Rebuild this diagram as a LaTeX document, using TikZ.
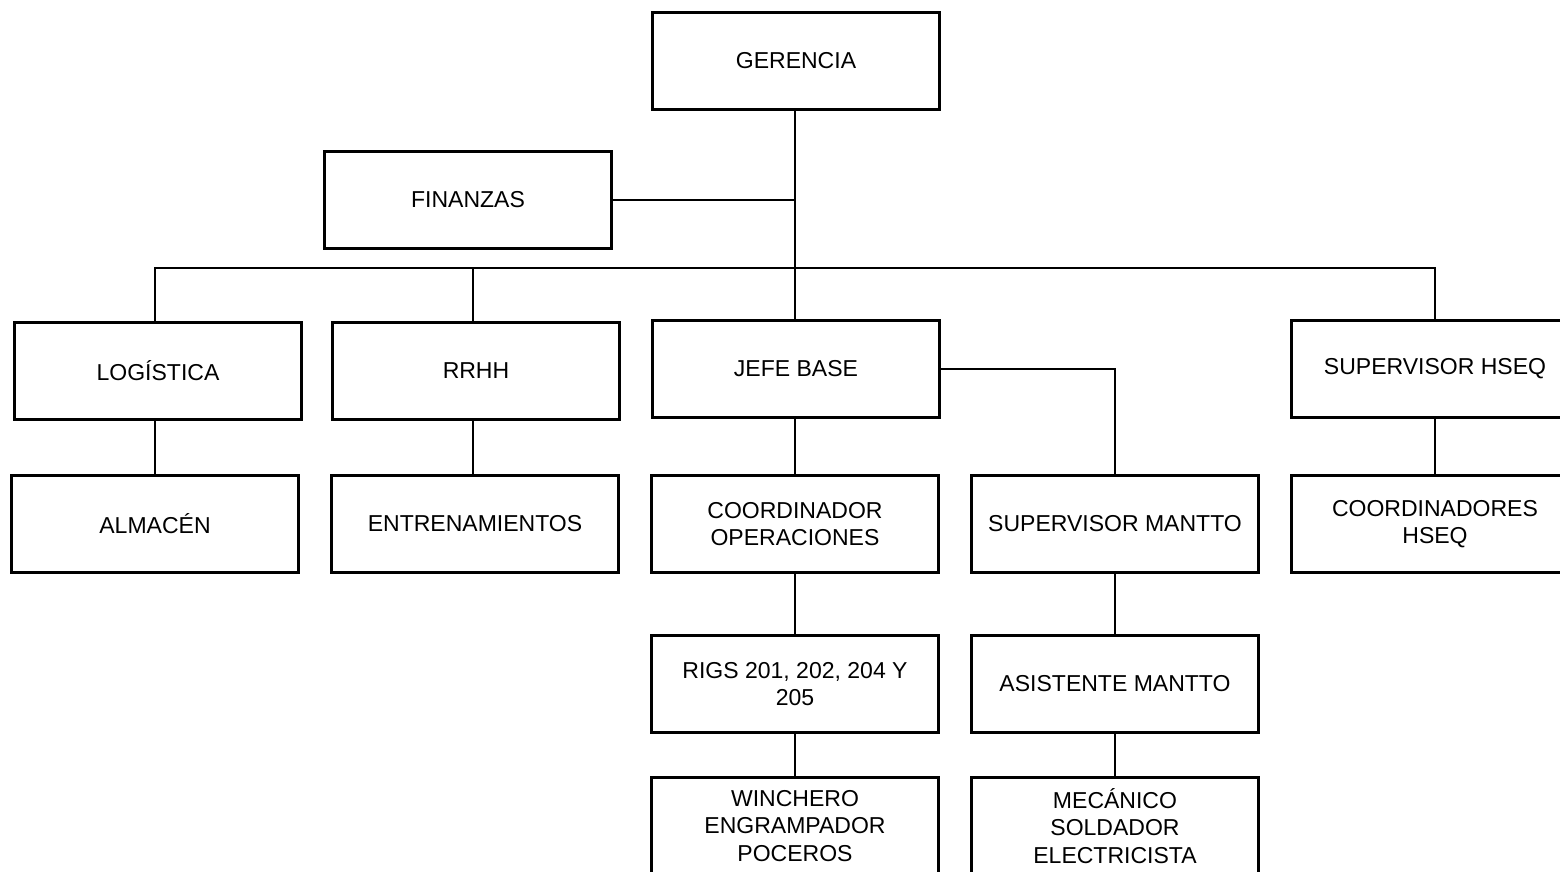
\documentclass[tikz,border=0pt]{standalone}
\usepackage{fontspec}
\setmainfont{Liberation Sans}
\usepackage{tikz}
\usetikzlibrary{positioning}

\begin{document}
\begin{tikzpicture}[
  x = 0.02cm, y = -0.02cm,
  line width = 1.6pt,
  box/.style = {draw,rectangle,minimum width=5.74cm,minimum height=1.94cm,
    align=center,inner sep=2pt,font=\fontsize{13.1}{15.6}\selectfont}
  ]
  \useasboundingbox (0,0) rectangle (1560,872);
  \node[box] (ger) at (796,61) {GERENCIA};
  \node[box] (fin) at (468,200) {FINANZAS};
  \node[box] (log) at (158,371) {LOGÍSTICA};
  \node[box] (rrhh) at (476,371) {RRHH};
  \node[box] (jefe) at (796,369) {JEFE BASE};
  \node[box] (hseq) at (1435,369) {SUPERVISOR HSEQ};
  \node[box] (alm) at (155,524) {ALMACÉN};
  \node[box] (ent) at (475,524) {ENTRENAMIENTOS};
  \node[box] (coord) at (795,524) {COORDINADOR\\OPERACIONES};
  \node[box] (mantto) at (1115,524) {SUPERVISOR MANTTO};
  \node[box] (choseq) at (1435,524) {COORDINADORES\\HSEQ};
  \node[box] (rigs) at (795,684) {RIGS 201, 202, 204 Y\\205};
  \node[box] (asis) at (1115,684) {ASISTENTE MANTTO};
  \node[box] (winch) at (795,826) {WINCHERO\\ENGRAMPADOR\\POCEROS};
  \node[box] (mec) at (1115,826) {MECÁNICO\\SOLDADOR\\ELECTRICISTA};
  \coordinate (bus) at (795,268);
  \draw (ger.south -| bus) -- (jefe.north -| bus);
  \draw (fin.east) -- (fin.east -| bus);
  \draw (log.north -| alm) |- (bus) -| (hseq.north);
  \draw (rrhh.north -| 473,0) -- (bus -| 473,0);
  \draw (log.south -| alm) -- (alm);
  \draw (rrhh.south -| 473,0) -- (ent.north -| 473,0);
  \draw (jefe.south -| coord) -- (coord);
  \draw (jefe.east) -| (mantto.north);
  \draw (hseq) -- (choseq);
  \draw (coord) -- (rigs);
  \draw (rigs) -- (winch);
  \draw (mantto) -- (asis);
  \draw (asis) -- (mec);
\end{tikzpicture}
\end{document}
